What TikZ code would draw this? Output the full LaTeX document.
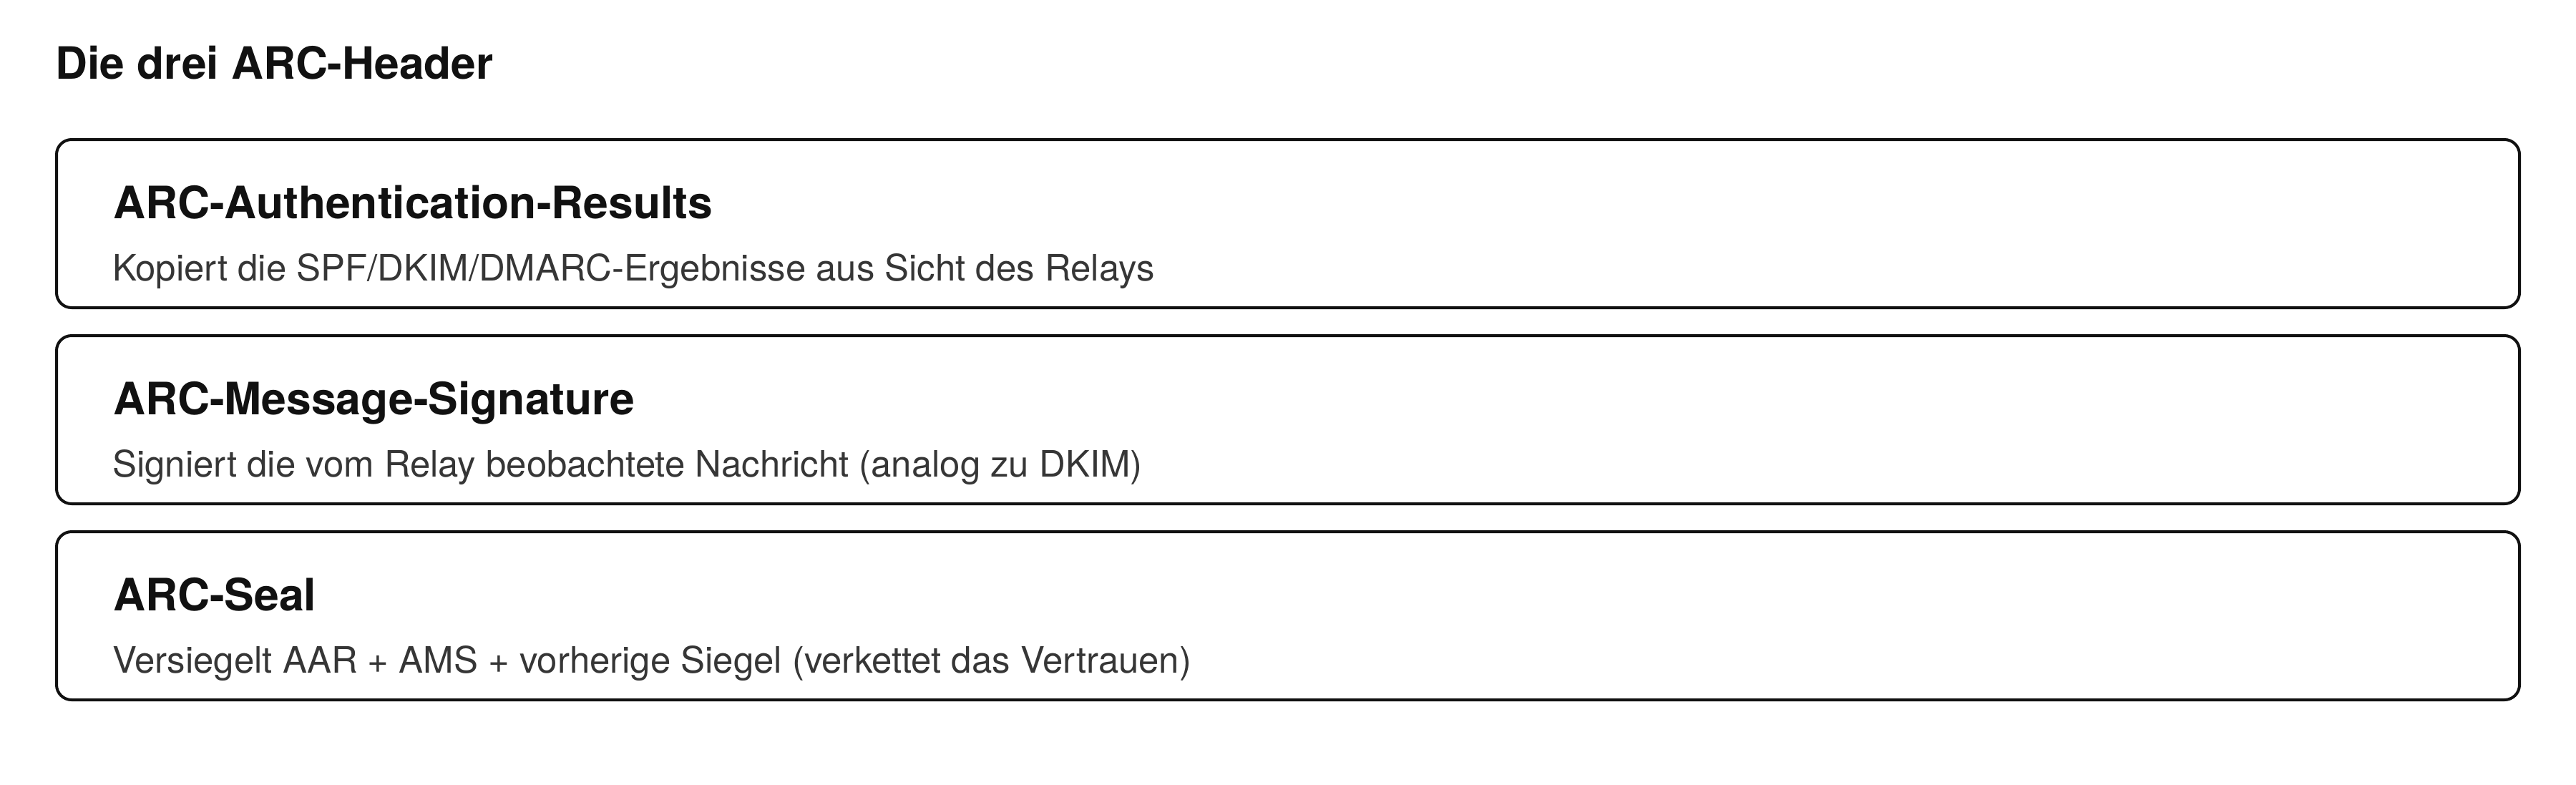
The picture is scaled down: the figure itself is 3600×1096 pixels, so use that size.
\documentclass[tikz,border=0pt]{standalone}
\usepackage{fontspec}
\setmainfont{TeX Gyre Heros}
\definecolor{ink}{HTML}{111111}
\definecolor{desc}{HTML}{363636}
\begin{document}
\begin{tikzpicture}[x=1pt,y=-1pt,
  headbox/.style={draw=ink, line width=4pt, rounded corners=21pt, fill=white,
    minimum width=3442pt, minimum height=235pt, inner sep=0pt, outer sep=0pt},
  maintitle/.style={anchor=base west, inner sep=0pt, text=ink,
    font=\fontsize{62.2pt}{70pt}\selectfont\bfseries},
  boxtitle/.style={anchor=base west, inner sep=0pt, text=ink,
    font=\fontsize{62.4pt}{70pt}\selectfont\bfseries},
  boxdesc/.style={anchor=base west, inner sep=0pt, text=desc,
    font=\fontsize{50.9pt}{58pt}\selectfont}]
\useasboundingbox[fill=white] (0,0) rectangle (3600,1096);

\node[maintitle] (title) at (77.5,110) {Die drei ARC-Header};

\node[headbox] (b1) at (1800,312.5) {};
\node[boxtitle] (t1) at (158,305) {ARC-Authentication-Results};
\node[boxdesc] (d1) at (157,392) {Kopiert die SPF/DKIM/DMARC-Ergebnisse aus Sicht des Relays};

\node[headbox] (b2) at (1800,586.5) {};
\node[boxtitle] (t2) at (158,579) {ARC-Message-Signature};
\node[boxdesc] (d2) at (157,666) {Signiert die vom Relay beobachtete Nachricht (analog zu DKIM)};

\node[headbox] (b3) at (1800,860.5) {};
\node[boxtitle] (t3) at (158,853) {ARC-Seal};
\node[boxdesc] (d3) at (157,940) {Versiegelt AAR + AMS + vorherige Siegel (verkettet das Vertrauen)};
\end{tikzpicture}
\end{document}
